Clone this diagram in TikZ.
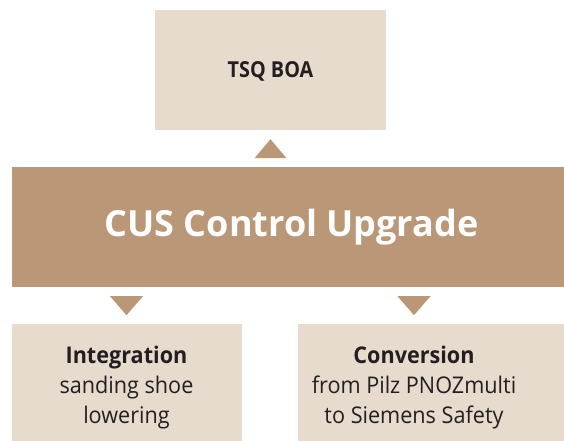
\documentclass[tikz,border=0pt]{standalone}
\usepackage{fontspec}
\setmainfont{Open Sans}
\newfontfamily\narrowfont[FakeStretch=0.94]{Open Sans}
\newfontfamily\tightfont[FakeStretch=0.9]{Open Sans}
\definecolor{boxlight}{RGB}{231,219,206}
\definecolor{boxbrown}{RGB}{186,151,119}
\definecolor{txtdark}{RGB}{35,31,32}
\tikzset{
  lightbox/.style={fill=boxlight, draw=none, inner sep=0pt},
  brownbox/.style={fill=boxbrown, draw=none, inner sep=0pt},
  boxtext/.style={text=txtdark, align=center, inner sep=0pt, font=\narrowfont\fontsize{23}{30}\selectfont},
  arrowtri/.style={fill=boxbrown, draw=none}
}
\begin{document}
\begin{tikzpicture}[x=1pt,y=-1pt]
\useasboundingbox (0,0) rectangle (564,441);
\clip (0,0) rectangle (564,441);
\node[lightbox, minimum width=231pt, minimum height=120pt] (top) at (270.5,70) {};
\node[boxtext, font=\tightfont\fontsize{22}{28}\selectfont\bfseries] (toptxt) at (270.5,71) {TSQ BOA};
\node[brownbox, minimum width=560pt, minimum height=120pt] (main) at (292,227) {};
\node[text=white, inner sep=0pt, font=\fontsize{36}{40}\selectfont\bfseries] (maintxt) at (291.5,227) {CUS Control Upgrade};
\node[lightbox, minimum width=230pt, minimum height=120pt] (left) at (127,384) {};
\node[lightbox, minimum width=274pt, minimum height=120pt] (right) at (435,384) {};
\node[boxtext] (lefttxt) at (126.5,387.5) {\textbf{Integration}\\sanding shoe\\lowering};
\node[boxtext] (righttxt) at (414,387.5) {\textbf{Conversion}\\from Pilz PNOZmulti\\to Siemens Safety};
% triangles between the boxes
\fill[arrowtri] (top.south) ++(-16,28) -- ++(32,0) -- ++(-16,-19) -- cycle;
\fill[arrowtri] (lefttxt.center |- main.south) ++(-16.5,9) -- ++(33,0) -- ++(-16.5,19) -- cycle;
\fill[arrowtri] (righttxt.center |- main.south) ++(-16.5,9) -- ++(33,0) -- ++(-16.5,19) -- cycle;
\end{tikzpicture}
\end{document}
